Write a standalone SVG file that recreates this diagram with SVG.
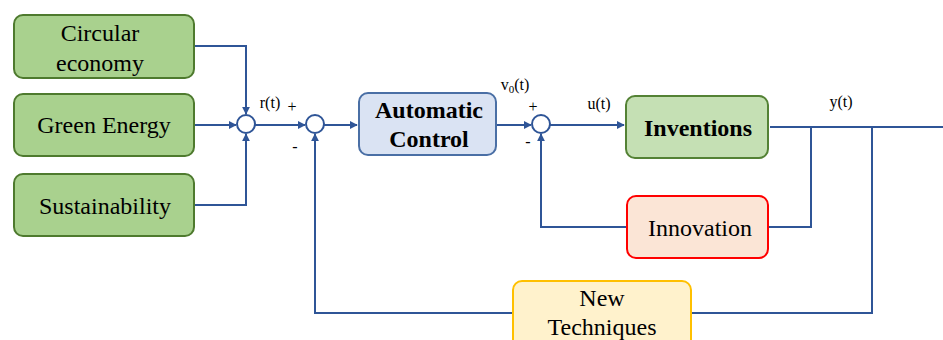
<svg xmlns="http://www.w3.org/2000/svg" width="943" height="340" viewBox="0 0 943 340">
  <defs>
    <marker id="arrow" viewBox="0 0 10 10" refX="9" refY="5" markerWidth="4" markerHeight="4" orient="auto" markerUnits="strokeWidth">
      <path d="M0,0 L10,5 L0,10 z" fill="#2f5597"/>
    </marker>
    <style>
      .box { stroke-width: 2; }
      .green { fill: #a9d18e; stroke: #4e7a2e; }
      .blue { fill: #dae3f3; stroke: #4a6fa5; }
      .lgreen { fill: #c5e0b4; stroke: #548235; }
      .red { fill: #fbe5d6; stroke: #ff0000; }
      .yellow { fill: #fff2cc; stroke: #ffc000; }
      text { font-family: "Liberation Serif", "Times New Roman", serif; fill: #000; text-anchor: middle; }
      .lbl { font-size: 24px; }
      .bold { font-weight: bold; }
      .sm { font-size: 16px; }
      .wire { fill: none; stroke: #2f5597; stroke-width: 2; }
      .arr { marker-end: url(#arrow); }
      .sum { fill: #fff; stroke: #2f5597; stroke-width: 2; }
    </style>
  </defs>

  <!-- connectors -->
  <g id="connectors">
    <path class="wire arr" d="M194,46 H246 V114"/>
    <path class="wire arr" d="M194,125 H236"/>
    <path class="wire arr" d="M194,205 H246 V134"/>
    <path class="wire arr" d="M255,125 H305"/>
    <path class="wire arr" d="M324,125 H357"/>
    <path class="wire arr" d="M496,125 H531"/>
    <path class="wire arr" d="M550,125 H624"/>
    <path class="wire" d="M770,127 H943"/>
    <path class="wire" d="M811,127 V227 H769"/>
    <path class="wire" d="M872,127 V313 H692"/>
    <path class="wire arr" d="M627,227 H541 V134"/>
    <path class="wire arr" d="M513,313 H315 V134"/>
  </g>

  <!-- summing junctions -->
  <g id="sum1"><circle class="sum" cx="246" cy="124" r="9"/></g>
  <g id="sum2"><circle class="sum" cx="315" cy="124" r="9"/></g>
  <g id="sum3"><circle class="sum" cx="541" cy="124" r="9"/></g>

  <!-- input nodes -->
  <g id="circular-economy">
    <rect class="box green" x="14" y="15" width="180" height="63" rx="9"/>
    <text class="lbl" x="100" y="41">Circular</text>
    <text class="lbl" x="100" y="71">economy</text>
  </g>
  <g id="green-energy">
    <rect class="box green" x="14" y="94" width="180" height="62" rx="9"/>
    <text class="lbl" x="104" y="133">Green Energy</text>
  </g>
  <g id="sustainability">
    <rect class="box green" x="14" y="174" width="180" height="62" rx="9"/>
    <text class="lbl" x="105" y="214">Sustainability</text>
  </g>

  <g id="automatic-control">
    <rect class="box blue" x="359" y="93" width="137" height="62" rx="9"/>
    <text class="lbl bold" x="429" y="118">Automatic</text>
    <text class="lbl bold" x="429" y="147">Control</text>
  </g>

  <g id="inventions">
    <rect class="box lgreen" x="626" y="96" width="142" height="62" rx="9"/>
    <text class="lbl bold" x="698" y="136">Inventions</text>
  </g>

  <g id="innovation">
    <rect class="box red" x="627" y="196" width="141" height="62" rx="9"/>
    <text class="lbl" x="700" y="236">Innovation</text>
  </g>

  <g id="new-techniques">
    <rect class="box yellow" x="513" y="281" width="178" height="70" rx="9"/>
    <text class="lbl" x="602" y="306">New</text>
    <text class="lbl" x="602" y="335">Techniques</text>
  </g>

  <!-- signal labels -->
  <g id="labels">
    <text class="sm" x="270" y="108">r(t)</text>
    <text class="sm" x="292" y="112">+</text>
    <text class="sm" x="295" y="152">-</text>
    <text class="sm" x="515" y="90">v<tspan font-size="11" dy="3">0</tspan><tspan dy="-3">(t)</tspan></text>
    <text class="sm" x="533" y="112">+</text>
    <text class="sm" x="528" y="147">-</text>
    <text class="sm" x="599" y="109">u(t)</text>
    <text class="sm" x="841" y="107">y(t)</text>
  </g>
</svg>
